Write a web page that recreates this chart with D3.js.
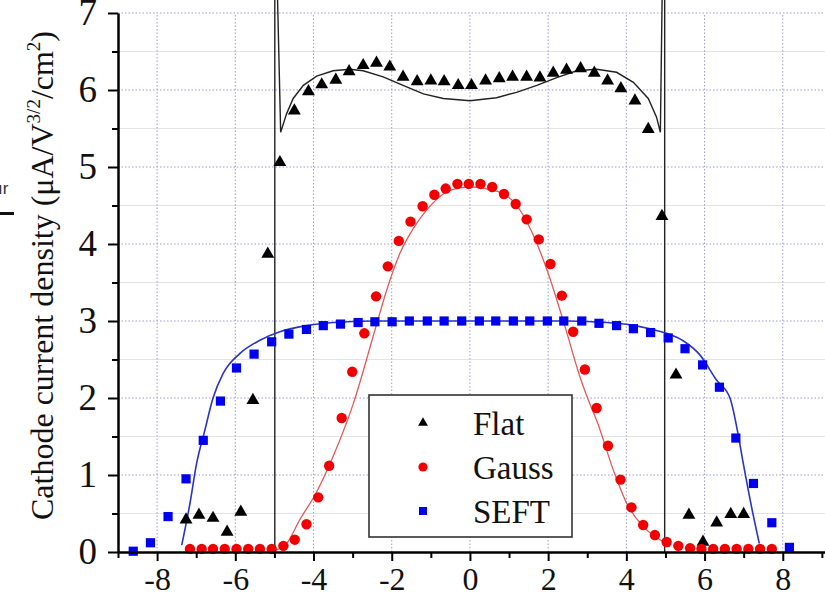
<!DOCTYPE html>
<html>
<head>
<meta charset="utf-8">
<title>Cathode current density</title>
<script src="https://cdn.jsdelivr.net/npm/d3@7"></script>
<style>
  body { margin: 0; background: #fff; }
  svg { display: block; font-family: "Liberation Serif", "Times New Roman", serif; }
  .grid-major line { stroke: #9d9dd8; stroke-width: 1; stroke-dasharray: 1.5 2; }
  .grid-minor line { stroke: #e3e3e3; stroke-width: 1; }
  .axis path { stroke: #000; stroke-width: 2.5; }
  .axis line { stroke: #000; stroke-width: 2; }
  .axis text { fill: #111; font-family: "Liberation Serif", "Times New Roman", serif; }
</style>
</head>
<body>
<svg id="chart" width="825" height="597"></svg>
<script>
// tick values
var xMajor = [-8, -6, -4, -2, 0, 2, 4, 6, 8];
var xMinor = [-9, -7, -5, -3, -1, 1, 3, 5, 7, 9];
var yMajor = [0, 1, 2, 3, 4, 5, 6, 7];
var yMinor = [0.5, 1.5, 2.5, 3.5, 4.5, 5.5, 6.5];

var legendLabels = ['Flat', 'Gauss', 'SEFT'];

// Flat (triangles)
var flatX = [-7.26, -6.93, -6.57, -6.21, -5.86, -5.55, -5.17, -4.86, -4.49, -4.13, -3.79, -3.43, -3.09, -2.73,
  -2.39, -2.05, -1.71, -1.35, -1.0, -0.66, -0.30, 0.04, 0.40, 0.75, 1.09, 1.45, 1.79, 2.13, 2.47, 2.83,
  3.18, 3.52, 3.86, 4.22, 4.56, 4.91, 5.27, 5.60, 5.96, 6.31, 6.67, 7.0];
var flatY = [0.42, 0.48, 0.44, 0.26, 0.52, 1.97, 3.87, 5.06, 5.73, 5.98, 6.07, 6.13, 6.24, 6.32,
  6.35, 6.30, 6.17, 6.11, 6.12, 6.11, 6.06, 6.06, 6.12, 6.15, 6.17, 6.17, 6.16, 6.22, 6.26, 6.28,
  6.22, 6.12, 6.02, 5.86, 5.49, 4.36, 2.30, 0.48, 0.13, 0.38, 0.49, 0.49];

// Gauss (circles)
var gaussX = [-7.16, -6.86, -6.57, -6.27, -5.97, -5.67, -5.37, -5.07, -4.77, -4.48, -4.18, -3.88, -3.60, -3.28,
  -3.01, -2.70, -2.40, -2.10, -1.82, -1.52, -1.21, -0.91, -0.62, -0.32, -0.03, 0.27, 0.57, 0.87, 1.17, 1.45,
  1.76, 2.06, 2.35, 2.64, 2.94, 3.24, 3.53, 3.85, 4.13, 4.43, 4.73, 5.03, 5.33, 5.63, 5.92, 6.22, 6.52,
  6.82, 7.12, 7.42, 7.72];
var gaussY = [0.04, 0.04, 0.04, 0.04, 0.04, 0.04, 0.04, 0.04, 0.08, 0.16, 0.36, 0.71, 1.12, 1.74,
  2.34, 2.84, 3.32, 3.71, 4.04, 4.29, 4.49, 4.64, 4.72, 4.78, 4.78, 4.78, 4.74, 4.65, 4.52, 4.32,
  4.06, 3.74, 3.33, 2.86, 2.37, 1.87, 1.38, 0.94, 0.58, 0.35, 0.22, 0.13, 0.08, 0.05, 0.04, 0.04, 0.04,
  0.04, 0.04, 0.04, 0.04];

// SEFT (squares)
var seftX = [-8.61, -8.17, -7.72, -7.26, -6.82, -6.38, -5.97, -5.52, -5.07, -4.63, -4.18, -3.75, -3.31,
  -2.86, -2.43, -1.99, -1.55, -1.09, -0.66, -0.21, 0.24, 0.66, 1.11, 1.53, 1.98, 2.40, 2.86, 3.30,
  3.75, 4.18, 4.62, 5.07, 5.50, 5.95, 6.38, 6.80, 7.25, 7.72, 8.17];
var seftY = [0.01, 0.12, 0.46, 0.95, 1.45, 1.96, 2.39, 2.57, 2.73, 2.83, 2.89, 2.94, 2.96,
  2.98, 2.99, 2.99, 3.0, 3.0, 3.0, 3.0, 3.0, 3.0, 3.0, 3.0, 3.0, 3.0, 3.0, 2.97,
  2.94, 2.90, 2.85, 2.78, 2.64, 2.43, 2.14, 1.48, 0.89, 0.38, 0.06];

// simulated curves [x, y]
var flatLine = [[-4.99, 0], [-4.99, 7.4], [-4.93, 7.4], [-4.84, 5.45], [-4.69, 5.69], [-4.52, 5.89],
  [-4.26, 6.06], [-3.92, 6.18], [-3.5, 6.25], [-3.07, 6.27], [-2.73, 6.25], [-2.22, 6.17], [-1.71, 6.06],
  [-1.19, 5.95], [-0.68, 5.89], [0, 5.86], [0.68, 5.90], [1.19, 5.97], [1.71, 6.06], [2.22, 6.16],
  [2.73, 6.25], [3.24, 6.27], [3.75, 6.23], [4.18, 6.10], [4.56, 5.89], [4.77, 5.65], [4.87, 5.45],
  [4.92, 7.4], [4.98, 7.4], [4.98, 0]];
var gaussLine = [[-5.0, 0.02], [-4.69, 0.11], [-4.35, 0.42], [-3.92, 0.78], [-3.5, 1.24], [-2.98, 1.93],
  [-2.43, 2.88], [-2.13, 3.40], [-1.79, 3.88], [-1.45, 4.20], [-1.11, 4.44], [-0.68, 4.65], [-0.26, 4.73],
  [0, 4.74], [0.72, 4.68], [1.15, 4.53], [1.58, 4.16], [2.0, 3.62], [2.43, 2.93], [2.81, 2.28], [3.03, 1.97],
  [3.24, 1.71], [3.67, 1.06], [4.01, 0.63], [4.43, 0.33], [4.86, 0.16], [5.12, 0.07]];
var seftLine = [[-7.37, 0.09], [-7.16, 0.63], [-6.99, 1.15], [-6.78, 1.58], [-6.57, 2.0], [-6.31, 2.32],
  [-5.88, 2.58], [-5.37, 2.75], [-4.86, 2.86], [-4.18, 2.94], [-3.5, 2.98], [-2.5, 3.0], [0, 3.0],
  [2.5, 3.0], [3.5, 2.98], [4.1, 2.95], [4.6, 2.9], [5.03, 2.84], [5.46, 2.74], [5.88, 2.56],
  [6.31, 2.23], [6.65, 2.0], [6.85, 1.55], [6.99, 1.15], [7.2, 0.59], [7.4, 0.11]];

var svg = d3.select('#chart');

var x = d3.scaleLinear().domain([-9, 9.08]).range([118, 825]);
var y = d3.scaleLinear().domain([0, 7]).range([552, 13]);

// grid
svg.append('g').attr('class', 'grid-minor')
  .selectAll('line').data(yMinor).enter().append('line')
  .attr('x1', x(-9)).attr('x2', x(9.08))
  .attr('y1', d => y(d)).attr('y2', d => y(d));

var gm = svg.append('g').attr('class', 'grid-major');
gm.selectAll('.gy').data(yMajor.filter(d => d > 0)).enter().append('line')
  .attr('class', 'gy')
  .attr('x1', x(-9)).attr('x2', x(9.08))
  .attr('y1', d => y(d)).attr('y2', d => y(d));
gm.selectAll('.gx').data(xMajor).enter().append('line')
  .attr('class', 'gx')
  .attr('x1', d => x(d)).attr('x2', d => x(d))
  .attr('y1', y(0)).attr('y2', y(7));

// curves
var line = d3.line().x(d => x(d[0])).y(d => y(d[1]));

svg.append('path').datum(flatLine)
  .attr('d', line)
  .attr('fill', 'none').attr('stroke', '#222').attr('stroke-width', 1.4);

svg.append('path').datum(gaussLine)
  .attr('d', line.curve(d3.curveMonotoneX))
  .attr('fill', 'none').attr('stroke', '#e25a5a').attr('stroke-width', 1.3);

svg.append('path').datum(seftLine)
  .attr('d', line.curve(d3.curveMonotoneX))
  .attr('fill', 'none').attr('stroke', '#2a35c0').attr('stroke-width', 1.6);

// markers
var tri = d3.symbol().type(d3.symbolTriangle).size(72);

svg.append('g').selectAll('path').data(flatX).enter().append('path')
  .attr('d', tri)
  .attr('transform', (d, i) => 'translate(' + x(d) + ',' + y(flatY[i]) + ')')
  .attr('fill', '#000');

svg.append('g').selectAll('circle').data(gaussX).enter().append('circle')
  .attr('cx', d => x(d))
  .attr('cy', (d, i) => y(gaussY[i]))
  .attr('r', 5.2)
  .attr('fill', '#f00000');

svg.append('g').selectAll('rect').data(seftX).enter().append('rect')
  .attr('x', d => x(d) - 4.6)
  .attr('y', (d, i) => y(seftY[i]) - 4.6)
  .attr('width', 9.2).attr('height', 9.2)
  .attr('fill', '#0000ee');

// axes
var xAxis = svg.append('g').attr('class', 'axis')
  .attr('transform', 'translate(0,' + y(0) + ')')
  .call(d3.axisBottom(x).tickValues(xMajor).tickSize(9).tickSizeOuter(0).tickPadding(6)
    .tickFormat(d => String(d)));
xAxis.attr('font-family', null).attr('font-size', 32);

svg.append('g').attr('class', 'axis')
  .attr('transform', 'translate(0,' + y(0) + ')')
  .call(d3.axisBottom(x).tickValues(xMinor).tickSize(6).tickFormat(''))
  .select('.domain').remove();

var yAxis = svg.append('g').attr('class', 'axis')
  .attr('transform', 'translate(' + x(-9) + ',0)')
  .call(d3.axisLeft(y).tickValues(yMajor).tickSize(10).tickSizeOuter(0).tickPadding(11)
    .tickFormat(d => String(d)));
yAxis.attr('font-family', null).attr('font-size', 37);

svg.append('g').attr('class', 'axis')
  .attr('transform', 'translate(' + x(-9) + ',0)')
  .call(d3.axisLeft(y).tickValues(yMinor).tickSize(6).tickFormat(''))
  .select('.domain').remove();

// y title
var title = svg.append('text')
  .attr('transform', 'translate(53,520) rotate(-90)')
  .attr('font-size', 32)
  .attr('fill', '#111');
title.append('tspan').text('Cathode current density (\u03bcA/V');
title.append('tspan').attr('font-size', 19).attr('dy', -13).text('3/2');
title.append('tspan').attr('dy', 13).text('/cm');
title.append('tspan').attr('font-size', 19).attr('dy', -13).text('2');
title.append('tspan').attr('dy', 13).text(')');

// cropped fragment at left edge
svg.append('text').attr('x', -2).attr('y', 194)
  .attr('font-family', 'Liberation Sans, Arial, sans-serif')
  .attr('font-size', 17).attr('fill', '#333').text('\u0131r');
svg.append('rect').attr('x', 0).attr('y', 212).attr('width', 14).attr('height', 3).attr('fill', '#111');

// legend
var legend = svg.append('g').attr('transform', 'translate(369,395)');
legend.append('rect')
  .attr('width', 203).attr('height', 142)
  .attr('fill', '#fff').attr('stroke', '#333').attr('stroke-width', 1.6);

var items = legend.selectAll('.item').data(legendLabels).enter().append('g')
  .attr('class', 'item')
  .attr('transform', (d, i) => 'translate(0,' + (28 + i * 44) + ')');

items.append('text')
  .attr('x', 104).attr('y', 12)
  .attr('font-size', 33).attr('fill', '#111')
  .text(d => d);

items.filter((d, i) => i === 0).append('path')
  .attr('d', d3.symbol().type(d3.symbolTriangle).size(42))
  .attr('transform', 'translate(54,0)')
  .attr('fill', '#000');
items.filter((d, i) => i === 1).append('circle')
  .attr('cx', 54).attr('r', 4.6).attr('fill', '#f00000');
items.filter((d, i) => i === 2).append('rect')
  .attr('x', 50).attr('y', -4).attr('width', 8).attr('height', 8).attr('fill', '#0000ee');
</script>
</body>
</html>
